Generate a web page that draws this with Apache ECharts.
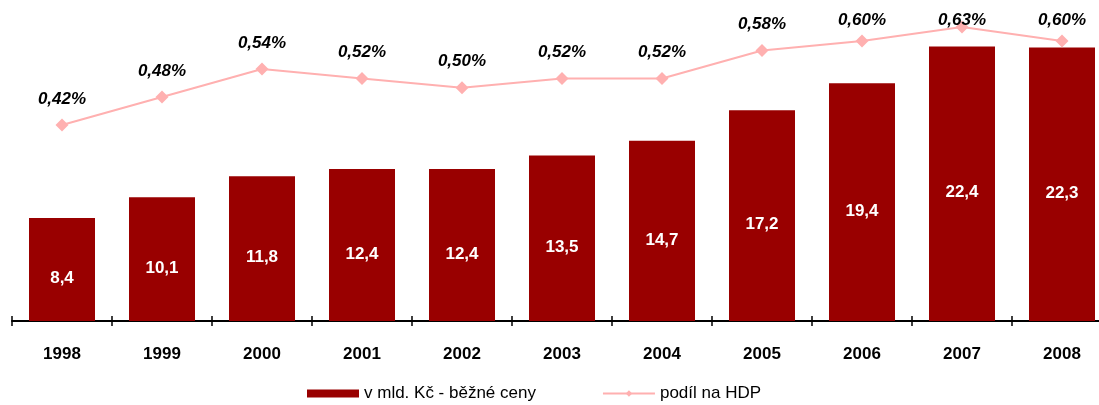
<!DOCTYPE html>
<html><head><meta charset="utf-8">
<script src="https://cdn.jsdelivr.net/npm/echarts@6/dist/echarts.min.js"></script>
<style>html,body{margin:0;padding:0;background:#fff;overflow:hidden}#c{width:1125px;height:405px}</style>
</head><body><div id="c"></div>
<script>
const categories = ['1998','1999','2000','2001','2002','2003','2004','2005','2006','2007','2008'];
const valuesBn = [8.4, 10.1, 11.8, 12.4, 12.4, 13.5, 14.7, 17.2, 19.4, 22.4, 22.3];
const shareGdp = [0.42, 0.48, 0.54, 0.52, 0.50, 0.52, 0.52, 0.58, 0.60, 0.63, 0.60];
const seriesNames = ['v mld. Kč - běžné ceny', 'podíl na HDP'];

const fmt = v => v.toFixed(1).replace('.', ',');
const fmtPct = v => v.toFixed(2).replace('.', ',') + '%';
const FONT = 'Liberation Sans, Arial, sans-serif';
const LINE_COLOR = '#FFB0B0';
const LABEL_DIST = 11;
const LABEL_HALF = 16;
const LABEL_MIN_CENTER = 19;

const chart = echarts.init(document.getElementById('c'), null, {renderer: 'canvas'});
function build(lineData) {
  return {
    animation: false,
    backgroundColor: '#fff',
    grid: {left: 12, width: 1100, top: 14.5, bottom: 84, containLabel: false},
    legend: {
      left: 307, top: 385, itemGap: 66, padding: 0,
      textStyle: {fontFamily: FONT, fontSize: 17, color: '#000'},
      data: [
        {name: seriesNames[0], icon: 'rect', itemStyle: {color: '#990000'}},
        {name: seriesNames[1]}
      ],
      itemWidth: 52, itemHeight: 8
    },
    xAxis: [{
      type: 'category', data: categories, position: 'bottom', boundaryGap: true,
      axisLine: {lineStyle: {color: '#000', width: 2}},
      axisTick: {show: true, length: 5, lineStyle: {color: '#000', width: 1.5}},
      axisLabel: {margin: 25, fontFamily: FONT, fontSize: 17, fontWeight: 'bold', color: '#000'}
    }, {
      type: 'category', data: categories, position: 'bottom', boundaryGap: true,
      axisLine: {show: false},
      axisTick: {show: true, inside: true, length: 5, lineStyle: {color: '#000', width: 1.5}},
      axisLabel: {show: false}
    }],
    yAxis: [{type: 'value', min: 0, max: 25, show: false},
            {type: 'value', min: 0, max: 0.657, show: false}],
    series: [{
      name: seriesNames[0], type: 'bar', data: valuesBn, barWidth: 66,
      itemStyle: {color: '#990000'},
      label: {show: true, position: 'inside', offset: [0, 9], formatter: p => fmt(p.value),
        fontFamily: FONT, fontSize: 17, fontWeight: 'bold', color: '#fff'}
    }, {
      name: seriesNames[1], type: 'line', yAxisIndex: 1, data: lineData, z: 5,
      symbol: 'diamond', symbolSize: 13,
      lineStyle: {color: LINE_COLOR, width: 2},
      itemStyle: {color: LINE_COLOR},
      label: {show: true, position: 'top', distance: LABEL_DIST, formatter: p => fmtPct(p.value),
        fontFamily: FONT, fontSize: 17, fontWeight: 'bold', fontStyle: 'italic', color: '#000'}
    }]
  };
}
chart.setOption(build(shareGdp));
// keep labels inside the top of the chart, like the original (uses the library's scale)
const adjusted = shareGdp.map((v, i) => {
  const py = chart.convertToPixel({xAxisIndex: 0, yAxisIndex: 1}, [i, v])[1];
  const center = py - LABEL_DIST - LABEL_HALF;
  if (center < LABEL_MIN_CENTER) {
    return {value: v, label: {distance: py - LABEL_MIN_CENTER - LABEL_HALF}};
  }
  return v;
});
chart.setOption(build(adjusted));
</script></body></html>
